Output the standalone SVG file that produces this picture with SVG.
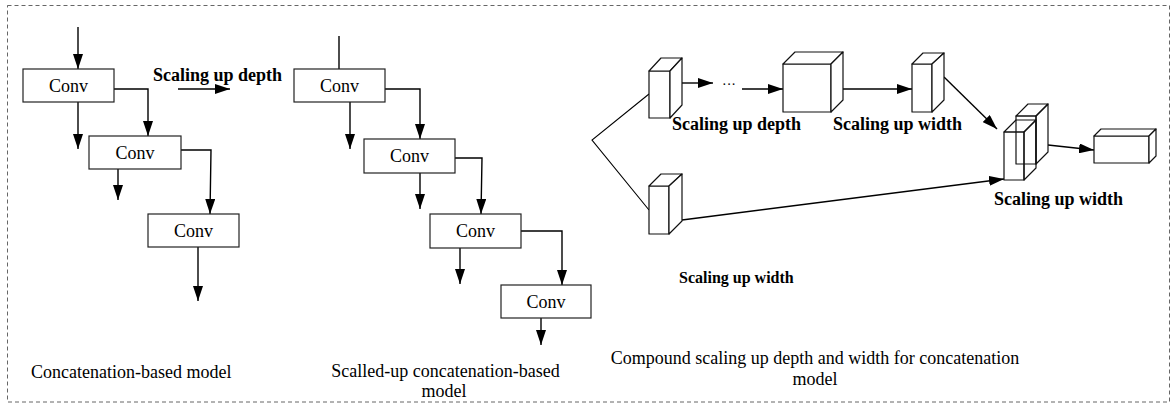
<svg xmlns="http://www.w3.org/2000/svg" width="1171" height="409" viewBox="0 0 1171 409">
<style>
.box{fill:#fff;stroke:#222;stroke-width:1.2}
.cube{fill:#fff;stroke:#111;stroke-width:1.2;stroke-linejoin:round}
.wire{fill:none;stroke:#111;stroke-width:1.2;stroke-linejoin:round}
.ln{fill:none;stroke:#000;stroke-width:1.4}
.arr{marker-end:url(#ah)}
.t{font-family:"Liberation Serif","Times New Roman",serif;font-size:18px;fill:#000}
.b{font-family:"Liberation Serif","Times New Roman",serif;font-size:18px;font-weight:bold;fill:#000}
.c{text-anchor:middle}
</style>
<defs>
<marker id="ah" markerUnits="userSpaceOnUse" markerWidth="15" markerHeight="10" refX="15" refY="5" orient="auto">
<path d="M0,0 L15,5 L0,10 z" fill="#000"/>
</marker>
</defs>
<rect x="7.5" y="5.5" width="1162" height="396.5" fill="none" stroke="#666" stroke-width="1" stroke-dasharray="4 3"/>

<g id="connectors">
<!-- left diagram -->
<line class="ln arr" x1="78" y1="27" x2="78" y2="69"/>
<line class="ln arr" x1="78" y1="102" x2="78" y2="149"/>
<polyline class="ln arr" points="114,89 148,89 148,136"/>
<line class="ln arr" x1="118" y1="169" x2="118" y2="200"/>
<polyline class="ln arr" points="181,150 211,150 210,214"/>
<line class="ln arr" x1="198" y1="247" x2="198" y2="301"/>
<line class="ln arr" x1="178" y1="89" x2="230" y2="89"/>
<!-- middle diagram -->
<line class="ln" x1="339" y1="36" x2="339" y2="69"/>
<line class="ln arr" x1="350" y1="102" x2="350" y2="149"/>
<polyline class="ln arr" points="385,89 420,89 420,139"/>
<line class="ln arr" x1="420" y1="173" x2="420" y2="209"/>
<polyline class="ln arr" points="455,158 482,158 481,214"/>
<line class="ln arr" x1="460" y1="248" x2="460" y2="284"/>
<polyline class="ln arr" points="521,231 562,231 562,285"/>
<line class="ln arr" x1="541" y1="318" x2="541" y2="345"/>
<!-- right diagram -->
<polyline class="ln" points="649,94 592,140 649,210" style="stroke-width:1.1"/>
<line class="ln arr" x1="682" y1="83" x2="713" y2="83"/>
<line class="ln arr" x1="742" y1="89" x2="783" y2="89"/>
<line class="ln arr" x1="831" y1="89" x2="912" y2="89"/>
<line class="ln arr" x1="944" y1="77" x2="997" y2="129"/>
<line class="ln arr" x1="682" y1="220" x2="1004" y2="179"/>
<line class="ln arr" x1="1048" y1="145" x2="1094" y2="150"/>
</g>

<g id="conv1"><rect class="box" x="23" y="69" width="91" height="33"/><text class="t c" x="68.5" y="92">Conv</text></g>
<g id="conv2"><rect class="box" x="89" y="136" width="92" height="33"/><text class="t c" x="135" y="159">Conv</text></g>
<g id="conv3"><rect class="box" x="148" y="214" width="91" height="33"/><text class="t c" x="193.5" y="237">Conv</text></g>

<g id="sconv1"><rect class="box" x="294" y="69" width="91" height="33"/><text class="t c" x="339.5" y="92">Conv</text></g>
<g id="sconv2"><rect class="box" x="364" y="139" width="91" height="34"/><text class="t c" x="409.5" y="162">Conv</text></g>
<g id="sconv3"><rect class="box" x="430" y="214" width="91" height="34"/><text class="t c" x="475.5" y="237">Conv</text></g>
<g id="sconv4"><rect class="box" x="501" y="285" width="90" height="33"/><text class="t c" x="546" y="308">Conv</text></g>

<g id="cube1">
<rect class="cube" x="649" y="71" width="21" height="47"/>
<path class="cube" d="M649,71 L661,58 L682,58 L670,71 z"/>
<path class="cube" d="M670,71 L682,58 L682,105 L670,118 z"/>
</g>
<g id="dots"><text class="t" x="722" y="89" style="font-size:14px">···</text></g>
<g id="cube2">
<rect class="cube" x="783" y="64" width="48" height="48"/>
<path class="cube" d="M783,64 L795,52 L843,52 L831,64 z"/>
<path class="cube" d="M831,64 L843,52 L843,100 L831,112 z"/>
</g>
<g id="cube3">
<rect class="cube" x="912" y="64" width="20" height="48"/>
<path class="cube" d="M912,64 L923,53 L944,53 L932,64 z"/>
<path class="cube" d="M932,64 L944,53 L944,100 L932,112 z"/>
</g>
<g id="cube4">
<rect class="cube" x="649" y="186" width="20" height="48"/>
<path class="cube" d="M649,186 L661,174 L682,174 L669,186 z"/>
<path class="cube" d="M669,186 L682,174 L682,221 L669,234 z"/>
</g>
<g id="merged">
<rect class="wire" x="1016" y="116" width="20" height="48"/>
<path class="wire" d="M1016,116 L1028,104 L1048,104 L1036,116 z"/>
<path class="wire" d="M1036,116 L1048,104 L1048,152 L1036,164 z"/>
<rect class="wire" x="1004" y="132" width="20" height="48"/>
<path class="wire" d="M1004,132 L1016,120 L1036,120 L1024,132 z"/>
<path class="wire" d="M1024,132 L1036,120 L1036,168 L1024,180 z"/>
</g>
<g id="output">
<rect class="cube" x="1094" y="136" width="55" height="27"/>
<path class="cube" d="M1094,136 L1101,129 L1156,129 L1149,136 z"/>
<path class="cube" d="M1149,136 L1156,129 L1156,156 L1149,163 z"/>
</g>

<g id="labels">
<text class="b" x="153" y="81">Scaling up depth</text>
<text class="b" x="672" y="130">Scaling up depth</text>
<text class="b" x="833" y="130">Scaling up width</text>
<text class="b" x="994" y="205">Scaling up width</text>
<text class="b" x="679" y="283" style="font-size:16px">Scaling up width</text>
<text class="t" x="31" y="378">Concatenation-based model</text>
<text class="t c" x="445.5" y="377">Scalled-up concatenation-based</text>
<text class="t c" x="444" y="397">model</text>
<text class="t c" x="815" y="364">Compound scaling up depth and width for concatenation</text>
<text class="t c" x="815" y="385">model</text>
</g>
</svg>
